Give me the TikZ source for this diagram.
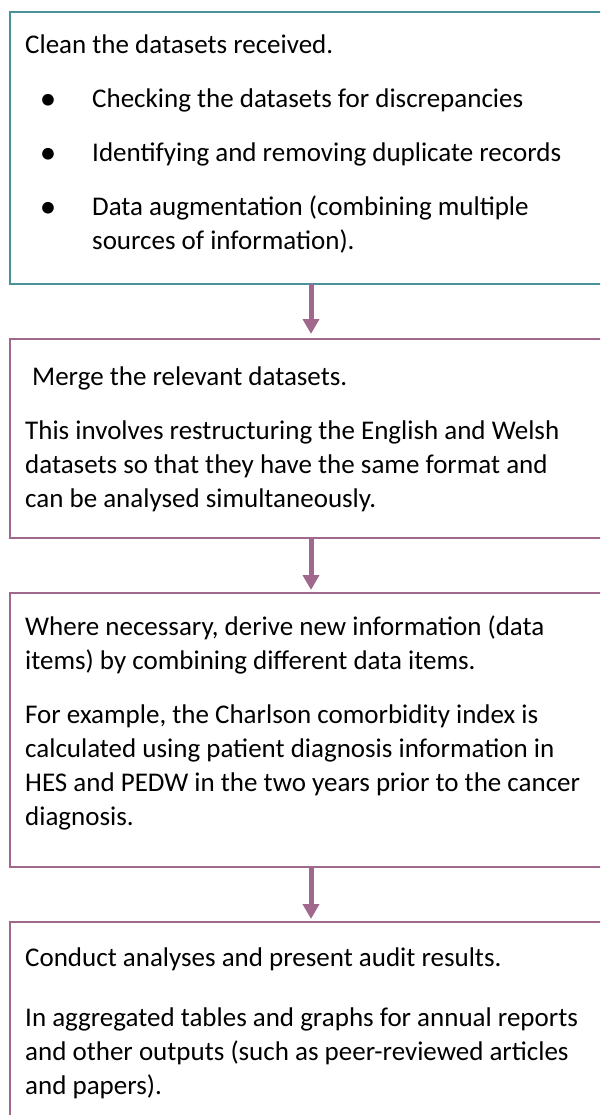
\documentclass[tikz,border=0pt]{standalone}
\usepackage{fontspec}
\setmainfont{Carlito}
\usetikzlibrary{arrows.meta}
\definecolor{tealline}{HTML}{4A9199}
\definecolor{mauve}{HTML}{A0688C}
\begin{document}
\begin{tikzpicture}[x=1pt,y=-1pt,
  box/.style={draw=#1, line width=2pt, inner sep=0pt, outer sep=0pt, anchor=north west, minimum width=640pt},
  txt/.style={anchor=base west, inner sep=0pt, align=left, font=\fontsize{27}{34}\selectfont},
  bul/.style={anchor=base, inner sep=0pt, font=\fontsize{33}{33}\selectfont},
  flow/.style={mauve, line width=5pt, -{Triangle[width=16pt,length=15pt]}}]
\useasboundingbox (0,0) rectangle (600,1115);
\clip (0,0) rectangle (600,1115);
\coordinate (ax) at (311,0);
% boxes
\node[box=tealline, minimum height=272pt] (b1) at (10,12) {};
\node[box=mauve, minimum height=199pt] (b2) at (10,339) {};
\node[box=mauve, minimum height=274pt] (b3) at (10,593) {};
\node[box=mauve, minimum height=260pt] (b4) at (10,922) {};
% box 1 text (anchor = baseline of last line)
\node[txt] (t1) at (25,54) {Clean the datasets received.};
\node[bul] (u1) at (48,110) {•};
\node[txt] (t2) at (92,108) {Checking the datasets for discrepancies};
\node[bul] (u2) at (48,164) {•};
\node[txt] (t3) at (92,162) {Identifying and removing duplicate records};
\node[bul] (u3) at (48,218) {•};
\node[txt] (t4) at (92,250) {Data augmentation (combining multiple\\sources of information).};
% box 2 text
\node[txt] (t5) at (32,385) {Merge the relevant datasets.};
\node[txt] (t6) at (25,507) {This involves restructuring the English and Welsh\\datasets so that they have the same format and\\can be analysed simultaneously.};
% box 3 text
\node[txt] (t7) at (25,669) {Where necessary, derive new information (data\\items) by combining different data items.};
\node[txt] (t8) at (25,825) {For example, the Charlson comorbidity index is\\calculated using patient diagnosis information in\\HES and PEDW in the two years prior to the cancer\\diagnosis.};
% box 4 text
\node[txt] (t9) at (25,966) {Conduct analyses and present audit results.};
\node[txt] (t10) at (25,1094) {In aggregated tables and graphs for annual reports\\and other outputs (such as peer-reviewed articles\\and papers).};
% arrows
\draw[flow] (b1.south -| ax) -- ([yshift=5pt]b2.north -| ax);
\draw[flow] (b2.south -| ax) -- ([yshift=3pt]b3.north -| ax);
\draw[flow] (b3.south -| ax) -- ([yshift=3pt]b4.north -| ax);
\end{tikzpicture}
\end{document}
